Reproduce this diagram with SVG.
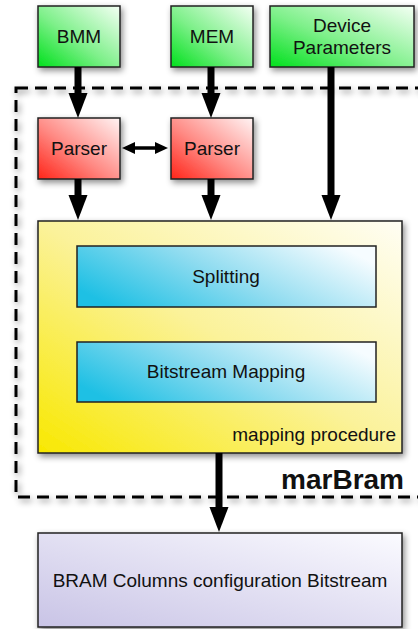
<svg xmlns="http://www.w3.org/2000/svg" width="418" height="629" viewBox="0 0 418 629">
<defs>
<linearGradient id="gGreen" x1="0" y1="1" x2="1" y2="0"><stop offset="0" stop-color="#00e01c"/><stop offset="0.45" stop-color="#7ef08a"/><stop offset="1" stop-color="#f4fff4"/></linearGradient>
<linearGradient id="gRed" x1="0" y1="1" x2="1" y2="0"><stop offset="0" stop-color="#ff2418"/><stop offset="0.45" stop-color="#ff8a84"/><stop offset="1" stop-color="#fff4f4"/></linearGradient>
<linearGradient id="gYellow" x1="0" y1="1" x2="1" y2="0"><stop offset="0" stop-color="#f8e800"/><stop offset="0.5" stop-color="#fbf29a"/><stop offset="1" stop-color="#fffef4"/></linearGradient>
<linearGradient id="gBlue" x1="0" y1="0.7" x2="1" y2="0.3"><stop offset="0" stop-color="#1ec0e4"/><stop offset="0.5" stop-color="#90dcf0"/><stop offset="1" stop-color="#f6fcff"/></linearGradient>
<linearGradient id="gPurple" x1="0" y1="1" x2="1" y2="0"><stop offset="0" stop-color="#c9c4e6"/><stop offset="1" stop-color="#fbfbff"/></linearGradient>
<filter id="shadow" x="-20%" y="-20%" width="140%" height="140%"><feDropShadow dx="2" dy="3" stdDeviation="3" flood-color="#000" flood-opacity="0.45"/></filter>
<marker id="head" markerUnits="userSpaceOnUse" markerWidth="26" markerHeight="20" refX="0" refY="9.5" orient="auto"><path d="M0,0 L25,9.5 L0,19 z" fill="#000"/></marker>
<marker id="smallEnd" markerUnits="userSpaceOnUse" markerWidth="14" markerHeight="13" refX="0" refY="6" orient="auto"><path d="M0,0 L13,6 L0,12 z" fill="#000"/></marker>
<marker id="smallStart" markerUnits="userSpaceOnUse" markerWidth="14" markerHeight="13" refX="13" refY="6" orient="auto"><path d="M13,0 L0,6 L13,12 z" fill="#000"/></marker>
</defs>
<style>
.box{stroke:#222;stroke-width:1.5;filter:url(#shadow)}
.lbl{font-family:"Liberation Sans",Arial,sans-serif;font-size:19px;fill:#111;text-anchor:middle}
.arr{stroke:#000;stroke-width:7;fill:none;marker-end:url(#head)}
</style>
<g id="marBram">
<rect x="16" y="88" width="420" height="409" fill="none" stroke="#000" stroke-width="3" stroke-dasharray="12 7" filter="url(#shadow)"/>
<text x="404" y="489" font-family="Liberation Sans,Arial,sans-serif" font-size="28" font-weight="bold" text-anchor="end" fill="#111">marBram</text>
</g>
<g id="BMM"><rect class="box" x="38" y="6" width="82" height="61" fill="url(#gGreen)"/><text class="lbl" x="79" y="43">BMM</text></g>
<g id="MEM"><rect class="box" x="171" y="6" width="82" height="61" fill="url(#gGreen)"/><text class="lbl" x="212" y="43">MEM</text></g>
<g id="DeviceParameters"><rect class="box" x="270" y="6" width="144" height="61" fill="url(#gGreen)"/><text class="lbl" x="342" y="32">Device</text><text class="lbl" x="342" y="54">Parameters</text></g>
<g id="Parser1"><rect class="box" x="38" y="118" width="82" height="61" fill="url(#gRed)"/><text class="lbl" x="79" y="155">Parser</text></g>
<g id="Parser2"><rect class="box" x="171" y="118" width="82" height="61" fill="url(#gRed)"/><text class="lbl" x="212" y="155">Parser</text></g>
<g id="MappingProcedure"><rect class="box" x="38" y="221" width="364" height="232" fill="url(#gYellow)"/><text class="lbl" x="396" y="441" style="text-anchor:end">mapping procedure</text></g>
<g id="Splitting"><rect x="77" y="246" width="299" height="61" fill="url(#gBlue)" stroke="#222" stroke-width="1.5"/><text class="lbl" x="226" y="283">Splitting</text></g>
<g id="BitstreamMapping"><rect x="77" y="342" width="299" height="60" fill="url(#gBlue)" stroke="#222" stroke-width="1.5"/><text class="lbl" x="226" y="378">Bitstream Mapping</text></g>
<g id="BRAMBitstream"><rect class="box" x="38" y="533" width="364" height="94" fill="url(#gPurple)"/><text class="lbl" x="220" y="587">BRAM Columns configuration Bitstream</text></g>
<g id="connectors">
<line class="arr" x1="78" y1="67" x2="78" y2="93"/>
<line class="arr" x1="211" y1="67" x2="211" y2="93"/>
<line class="arr" x1="331" y1="67" x2="331" y2="195"/>
<line class="arr" x1="78" y1="179" x2="78" y2="195"/>
<line class="arr" x1="211" y1="179" x2="211" y2="195"/>
<line class="arr" x1="219" y1="453" x2="219" y2="507"/>
<line x1="135" y1="148" x2="155" y2="148" stroke="#000" stroke-width="3.5" marker-start="url(#smallStart)" marker-end="url(#smallEnd)"/>
</g>
</svg>
